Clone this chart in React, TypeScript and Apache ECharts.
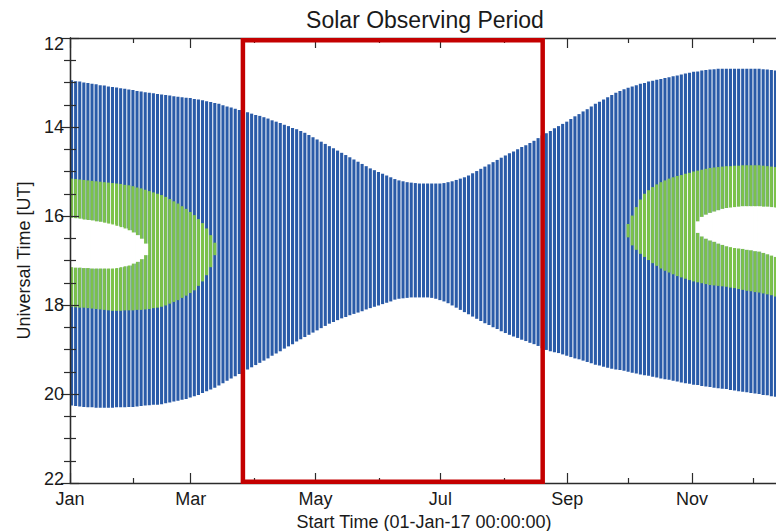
import React, { useEffect, useRef } from "react";
import * as echarts from "echarts";

// ---- axis definitions ----
const monthLabels = ["Jan", "Mar", "May", "Jul", "Sep", "Nov"];
const monthMajorDays = [0, 59, 120, 181, 243, 304];
const monthMinorDays = [31, 90, 151, 212, 273, 334];
const dayRange = [0, 346];
const hourRange = [12, 22];

// ---- observing window: one bar every 2 days starting 01-Jan ----
const barStep = 2;
const windowTop = [
  12.95, 12.97, 12.98, 13.0, 13.01, 13.03, 13.04, 13.06, 13.07, 13.09, 13.1, 13.11, 13.13, 13.14, 13.16, 13.17, 13.19, 13.2, 13.22, 13.23, 13.24, 13.26, 13.27,
  13.28, 13.29, 13.31, 13.32, 13.33, 13.34, 13.35, 13.37, 13.38, 13.4, 13.42, 13.44, 13.46, 13.48, 13.51, 13.54, 13.56, 13.59, 13.62, 13.65, 13.67, 13.7, 13.73, 13.75, 13.78, 13.81, 13.85, 13.88,
  13.91, 13.95, 13.98, 14.02, 14.05, 14.09, 14.13, 14.18, 14.23, 14.28, 14.33, 14.38, 14.43, 14.48, 14.53, 14.58, 14.63, 14.68, 14.73, 14.78, 14.83, 14.88, 14.93, 14.97, 15.01, 15.05, 15.09, 15.13, 15.17, 15.2,
  15.22, 15.24, 15.25, 15.26, 15.27, 15.27, 15.27, 15.27, 15.27, 15.27, 15.26, 15.24, 15.22, 15.19, 15.16, 15.13, 15.09, 15.04, 14.99, 14.94,
  14.89, 14.84, 14.79, 14.74, 14.69, 14.64, 14.59, 14.55, 14.5, 14.45, 14.41, 14.36, 14.31, 14.25, 14.19, 14.14, 14.09, 14.03, 13.98, 13.93, 13.88, 13.82, 13.76, 13.71, 13.65, 13.6, 13.54, 13.48, 13.43, 13.38,
  13.33, 13.28, 13.23, 13.19, 13.15, 13.12, 13.09, 13.06, 13.03, 13.01, 12.98, 12.96, 12.94, 12.92, 12.9, 12.88, 12.86, 12.84, 12.82, 12.8,
  12.78, 12.76, 12.75, 12.73, 12.72, 12.71, 12.7, 12.69, 12.69, 12.69, 12.69, 12.69, 12.69, 12.69, 12.69, 12.69, 12.69, 12.69, 12.7, 12.71, 12.72, 12.73,
];
const windowBottom = [
  20.26, 20.27, 20.28, 20.29, 20.3, 20.3, 20.31, 20.31, 20.31, 20.31, 20.31, 20.3, 20.3, 20.3, 20.29, 20.29, 20.28, 20.27, 20.26, 20.25, 20.24, 20.24, 20.23,
  20.21, 20.19, 20.17, 20.15, 20.13, 20.11, 20.08, 20.05, 20.02, 19.98, 19.94, 19.9, 19.86, 19.81, 19.76, 19.7, 19.65, 19.6, 19.55, 19.5, 19.45, 19.4, 19.35, 19.3, 19.25, 19.2, 19.14, 19.09,
  19.04, 18.98, 18.93, 18.88, 18.82, 18.77, 18.72, 18.67, 18.62, 18.57, 18.52, 18.47, 18.42, 18.38, 18.34, 18.3, 18.27, 18.23, 18.2, 18.17, 18.14, 18.1, 18.07, 18.04, 18.01, 17.98, 17.95, 17.92, 17.88, 17.86,
  17.85, 17.84, 17.83, 17.83, 17.83, 17.83, 17.83, 17.84, 17.86, 17.89, 17.92, 17.96, 18.01, 18.06, 18.11, 18.16, 18.21, 18.26, 18.31, 18.36,
  18.41, 18.45, 18.5, 18.54, 18.59, 18.63, 18.67, 18.71, 18.74, 18.78, 18.81, 18.85, 18.88, 18.92, 18.97, 19.01, 19.04, 19.06, 19.08, 19.11, 19.14, 19.17, 19.2, 19.22, 19.25, 19.28, 19.31, 19.34, 19.36, 19.39,
  19.41, 19.43, 19.45, 19.46, 19.48, 19.5, 19.52, 19.54, 19.56, 19.58, 19.59, 19.61, 19.63, 19.65, 19.67, 19.68, 19.7, 19.72, 19.74, 19.76,
  19.77, 19.79, 19.8, 19.82, 19.83, 19.84, 19.86, 19.87, 19.88, 19.89, 19.91, 19.92, 19.94, 19.95, 19.96, 19.98, 19.99, 20.0, 20.02, 20.03, 20.05, 20.06,
];

// ---- green band (two seasons) ----
const greenLeftStart = 0;
const greenLeftTop = [
  15.16, 15.17, 15.18, 15.19, 15.2, 15.21, 15.22, 15.23, 15.24, 15.25, 15.26, 15.27, 15.28, 15.3, 15.31, 15.33, 15.36, 15.38, 15.41, 15.44, 15.47, 15.5, 15.53, 15.57, 15.62, 15.67, 15.72, 15.78, 15.84, 15.91, 15.98, 16.07, 16.16, 16.28, 16.43, 16.6,
];
const greenLeftBottom = [
  18.04, 18.05, 18.06, 18.06, 18.07, 18.08, 18.09, 18.1, 18.11, 18.12, 18.13, 18.13, 18.13, 18.12, 18.12, 18.12, 18.11, 18.11, 18.1, 18.09, 18.07, 18.06, 18.04, 18.01, 17.97, 17.93, 17.89, 17.84, 17.79, 17.73, 17.67, 17.57, 17.47, 17.33, 17.15, 16.88,
];
const greenRightStart = 272;
const greenRightTop = [
  16.18, 15.99, 15.8, 15.63, 15.5, 15.42, 15.35, 15.29, 15.24, 15.2, 15.16, 15.13, 15.1, 15.08, 15.05, 15.03, 15.0, 14.98, 14.96, 14.94, 14.92, 14.91, 14.9, 14.89, 14.88, 14.88, 14.87, 14.87, 14.86, 14.86, 14.86, 14.86, 14.86, 14.87, 14.88, 14.89, 14.9,
];
const greenRightBottom = [
  16.48, 16.66, 16.76, 16.85, 16.92, 16.99, 17.06, 17.12, 17.18, 17.23, 17.27, 17.31, 17.35, 17.38, 17.41, 17.44, 17.47, 17.49, 17.51, 17.53, 17.55, 17.56, 17.57, 17.58, 17.59, 17.61, 17.62, 17.64, 17.66, 17.68, 17.69, 17.71, 17.72, 17.74, 17.76, 17.78, 17.81,
];

// ---- white gaps inside the green band ----
const holeLeftStart = 0;
const holeLeftTop = [16.04, 16.05, 16.06, 16.08, 16.09, 16.1, 16.12, 16.13, 16.15, 16.17, 16.19, 16.22, 16.25, 16.28, 16.32, 16.37, 16.43, 16.51, 16.62];
const holeLeftBottom = [17.15, 17.16, 17.16, 17.17, 17.17, 17.18, 17.18, 17.18, 17.18, 17.18, 17.18, 17.17, 17.15, 17.13, 17.11, 17.07, 17.03, 16.97, 16.88];
const holeRightStart = 306;
const holeRightTop = [16.12, 16.02, 15.97, 15.93, 15.9, 15.87, 15.84, 15.82, 15.81, 15.8, 15.79, 15.78, 15.78, 15.78, 15.78, 15.78, 15.79, 15.79, 15.8, 15.81];
const holeRightBottom = [16.38, 16.46, 16.51, 16.55, 16.58, 16.62, 16.65, 16.68, 16.7, 16.72, 16.73, 16.74, 16.76, 16.77, 16.79, 16.8, 16.83, 16.86, 16.89, 16.92];

// ---- highlighted period (red box) ----
const highlightDays = [84.5, 231];
const highlightHours = [12.05, 21.97];

function toBars(start: number, tops: number[], bottoms: number[]) {
  return tops.map((t, i) => [start + i * barStep, t, bottoms[i]]);
}

const BLUE = "#2a5ba8";
const GREEN = "#7cc24a";
const RED = "#c40000";
const AXIS = "#2b2b2b";
const FONT = "Liberation Sans, Arial, Helvetica, sans-serif";

function barRenderer(color: string, gap: number) {
  return (params: any, api: any) => {
    const d = api.value(0);
    const p1 = api.coord([d, api.value(1)]);
    const p2 = api.coord([d + barStep, api.value(2)]);
    return {
      type: "rect",
      shape: { x: p1[0] - (gap < 0 ? -gap / 2 : 0), y: p1[1], width: Math.max(0.5, p2[0] - p1[0] - gap), height: p2[1] - p1[1] },
      style: { fill: color },
    };
  };
}

export default function App() {
  const ref = useRef<HTMLDivElement>(null);
  useEffect(() => {
    if (!ref.current) return;
    const chart = echarts.init(ref.current, undefined, { renderer: "svg" });
    const axisLineStyle = { color: AXIS, width: 1.3 };
    const labelText = { fontFamily: FONT, fontSize: 18, color: "#1a1a1a" };
    const baseX = {
      type: "value",
      min: dayRange[0],
      max: dayRange[1],
      splitLine: { show: false },
      z: 5,
    };
    const yBase = {
      type: "value",
      inverse: true,
      min: hourRange[0],
      max: hourRange[1],
      interval: 2,
      splitLine: { show: false },
      axisLine: { show: true, lineStyle: axisLineStyle },
      axisTick: { show: true, inside: true, length: 9, lineStyle: { color: AXIS, width: 1.2 } },
      minorTick: { show: true, splitNumber: 4, length: 6, lineStyle: { color: AXIS, width: 1.2 } },
      z: 5,
    };
    const windowBars = windowTop.map((t, i) => [i * barStep, t, windowBottom[i]]);
    const greenBars = toBars(greenLeftStart, greenLeftTop, greenLeftBottom).concat(
      toBars(greenRightStart, greenRightTop, greenRightBottom)
    );
    const holeBars = toBars(holeLeftStart, holeLeftTop, holeLeftBottom).concat(
      toBars(holeRightStart, holeRightTop, holeRightBottom)
    );
    chart.setOption({
      animation: false,
      backgroundColor: "#ffffff",
      title: {
        text: "Solar Observing Period",
        left: 425,
        textAlign: "center",
        top: 8,
        padding: 0,
        textStyle: { fontFamily: FONT, fontSize: 23, fontWeight: "normal", color: "#1a1a1a" },
      },
      grid: { left: 70, top: 38, right: -2, bottom: 48, containLabel: false, outerBoundsMode: "none" },
      xAxis: [
        {
          ...baseX,
          position: "bottom",
          axisLine: { show: true, onZero: false, lineStyle: axisLineStyle },
          axisTick: { show: true, inside: true, length: 10, customValues: monthMajorDays, lineStyle: { color: AXIS, width: 1.2 } },
          axisLabel: {
            show: true,
            customValues: monthMajorDays,
            formatter: (v: number) => monthLabels[monthMajorDays.indexOf(v)] ?? "",
            ...labelText,
            margin: 7,
          },
          name: "Start Time (01-Jan-17 00:00:00)",
          nameLocation: "middle",
          nameGap: 22,
          nameTextStyle: { ...labelText, lineHeight: 18 },
        },
        {
          ...baseX,
          position: "bottom",
          axisLine: { show: false, onZero: false },
          axisTick: { show: true, inside: true, length: 5, customValues: monthMinorDays, lineStyle: { color: AXIS, width: 1.2 } },
          axisLabel: { show: false },
        },
        {
          ...baseX,
          position: "top",
          axisLine: { show: true, onZero: false, lineStyle: axisLineStyle },
          axisTick: { show: true, inside: true, length: 10, customValues: monthMajorDays, lineStyle: { color: AXIS, width: 1.2 } },
          axisLabel: { show: false },
        },
        {
          ...baseX,
          position: "top",
          axisLine: { show: false, onZero: false },
          axisTick: { show: true, inside: true, length: 5, customValues: monthMinorDays, lineStyle: { color: AXIS, width: 1.2 } },
          axisLabel: { show: false },
        },
      ],
      yAxis: [
        {
          ...yBase,
          position: "left",
          axisLabel: {
            show: true,
            ...labelText,
            margin: 6,
            formatter: (v: number) =>
              v === hourRange[0] ? `{first|${v}}` : v === hourRange[1] ? `{last|${v}}` : `{mid|${v}}`,
            rich: {
              first: { ...labelText, padding: [11, 0, 0, 0] },
              last: { ...labelText, padding: [0, 0, 9, 0] },
              mid: { ...labelText },
            },
          },
          name: "Universal Time [UT]",
          nameLocation: "middle",
          nameRotate: 90,
          nameGap: 37,
          nameTextStyle: labelText,
        },
        {
          ...yBase,
          position: "right",
          axisLabel: { show: false },
        },
      ],
      series: [
        {
          type: "custom",
          name: "window",
          xAxisIndex: 0,
          yAxisIndex: 0,
          clip: true,
          encode: { x: 0, y: [1, 2] },
          renderItem: barRenderer(BLUE, 1),
          data: windowBars,
          z: 2,
        },
        {
          type: "custom",
          name: "green",
          xAxisIndex: 0,
          yAxisIndex: 0,
          clip: true,
          encode: { x: 0, y: [1, 2] },
          renderItem: barRenderer(GREEN, 1),
          data: greenBars,
          z: 3,
        },
        {
          type: "custom",
          name: "gap",
          xAxisIndex: 0,
          yAxisIndex: 0,
          clip: true,
          encode: { x: 0, y: [1, 2] },
          renderItem: barRenderer("#ffffff", -0.8),
          data: holeBars,
          z: 4,
        },
        {
          type: "line",
          name: "highlight",
          xAxisIndex: 0,
          yAxisIndex: 0,
          symbol: "none",
          silent: true,
          lineStyle: { color: RED, width: 4.5, join: "miter", cap: "square" },
          data: [
            [highlightDays[0], highlightHours[0]],
            [highlightDays[0], highlightHours[1]],
            [highlightDays[1], highlightHours[1]],
            [highlightDays[1], highlightHours[0]],
            [highlightDays[0], highlightHours[0]],
          ],
          z: 10,
        },
      ],
    });
    return () => chart.dispose();
  }, []);
  return (
    <div
      ref={ref}
      style={{ position: "absolute", left: 0, top: 0, width: 776, height: 531, background: "#fff" }}
    />
  );
}
